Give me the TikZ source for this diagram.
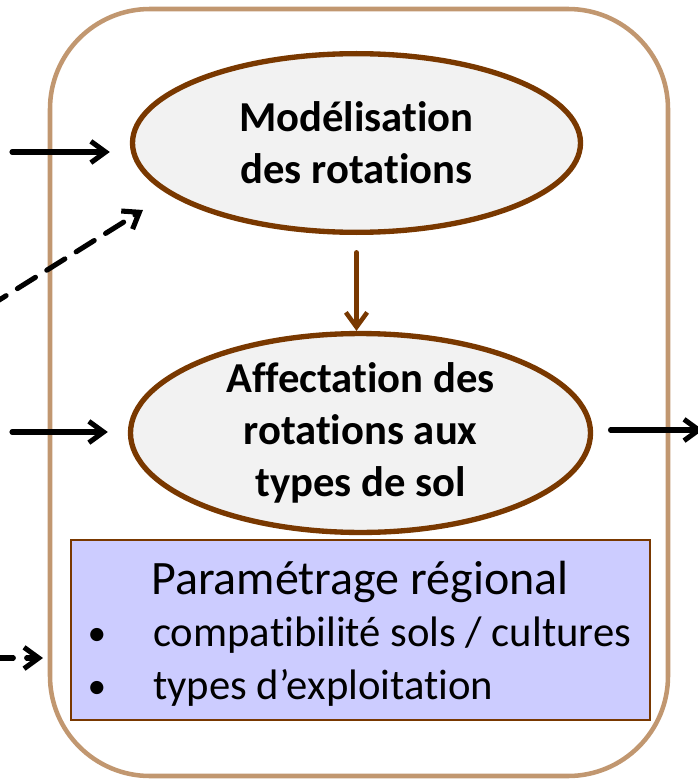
\documentclass[tikz,border=0pt]{standalone}
\usepackage{fontspec}
\setmainfont{Carlito}[RawFeature=-liga]
\usetikzlibrary{arrows.meta,shapes.geometric,positioning}

\definecolor{cadre}{RGB}{193,151,112}
\definecolor{brun}{RGB}{121,56,0}
\definecolor{gris}{RGB}{242,242,242}
\definecolor{lavande}{RGB}{204,204,255}

\begin{document}
\begin{tikzpicture}[x=0.75pt, y=-0.75pt,
  etape/.style={ellipse, draw=brun, line width=4pt, fill=gris, align=center,
    inner sep=0pt, font=\bfseries\fontsize{32}{39}\selectfont},
  fleche/.style={-{Straight Barb[length=11pt,width=16pt]}, line width=3.8pt,
    line cap=round, line join=round},
  tirets/.style={fleche, dash pattern=on 16pt off 10pt},
  texte/.style={inner sep=0pt, font=\fontsize{32}{40}\selectfont}]
  \useasboundingbox (0,0) rectangle (698,781);

  % cadre du module
  \draw[cadre, line width=3.4pt, rounded corners=75pt] (50,9) rectangle (668,776);

  % etapes
  \node[etape, minimum width=336pt, minimum height=134pt] (model) at (356.5,143)
    {Modélisation\\des rotations};
  \node[etape, minimum width=345pt, minimum height=129pt] (affect) at (360.5,433)
    {Affectation des\\rotations aux\\types de sol};
  \draw[fleche, brun, line width=3.4pt, shorten <=13pt] (model.south) -- (model.south |- affect.north);

  % parametrage
  \node[draw=brun, line width=1.5pt, fill=lavande, minimum width=434pt,
    minimum height=135pt] (param) at (360.5,630) {};
  \node[texte, font=\fontsize{36}{40}\selectfont, anchor=base] (titre) at (360,594)
    {Paramétrage régional};
  \node[texte, anchor=base west] (itemA) at (153,646) {compatibilité sols / cultures};
  \node[texte, anchor=base west] (itemB) at (153,699) {types d’exploitation};
  \node[texte, font=\fontsize{28}{40}\selectfont, anchor=base] (puceA) at (97,645) {\textbullet};
  \node[texte, font=\fontsize{28}{40}\selectfont, anchor=base] (puceB) at (97,698) {\textbullet};

  % entrees et sortie
  \coordinate (inA) at (12,152);
  \coordinate (inB) at (-12,307);
  \coordinate (tipB) at (143,210);
  \coordinate (inC) at (12,432);
  \coordinate (outD) at (703,430);
  \coordinate (inE) at (-8,658);
  \coordinate (tipE) at (43,658);
  \draw[fleche, shorten >=15pt] (inA) -- (inA -| model.west);
  \draw[tirets] (inB) -- (tipB);
  \draw[fleche, shorten >=15pt] (inC) -- (inC -| affect.west);
  \draw[fleche, shorten <=13pt] (outD -| affect.east) -- (outD);
  \draw[tirets] (inE) -- (tipE);
\end{tikzpicture}
\end{document}
